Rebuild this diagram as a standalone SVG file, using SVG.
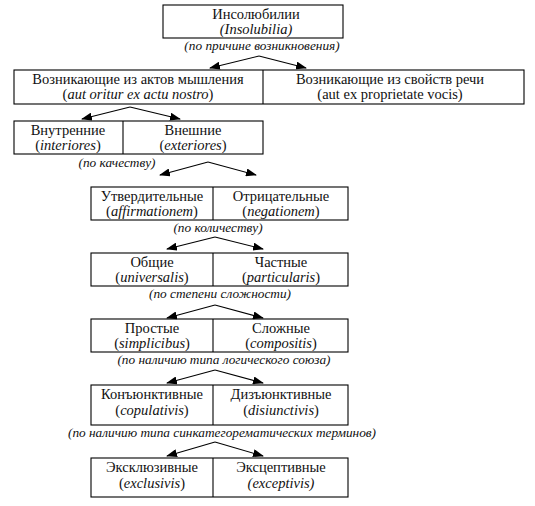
<svg xmlns="http://www.w3.org/2000/svg" width="535" height="506" viewBox="0 0 535 506">
<defs>
<marker id="ah" markerUnits="userSpaceOnUse" markerWidth="11" markerHeight="8" refX="10" refY="4" orient="auto">
<path d="M0,0 L11,4 L0,8 Z" fill="#000"/>
</marker>
<style>
.b,.div{fill:none;stroke:#000;stroke-width:1.1}
text{font-size:14.5px;fill:#111;text-anchor:middle}
.i{font-style:italic}
.lab{font-style:italic;font-size:13.3px}
.con line{stroke:#000;stroke-width:1.1;marker-end:url(#ah)}
</style>
</defs>
<rect x="0" y="0" width="535" height="506" fill="#fff"/>
<g font-family="'Liberation Serif', 'DejaVu Serif', 'Times New Roman', serif">
<g id="n-root">
<rect class="b" x="163" y="5" width="180" height="33"/>
<text x="256" y="19">Инсолюбилии</text>
<text x="256" y="34" class="i">(Insolubilia)</text>
</g>
<text x="262" y="50" class="lab">(по причине возникновения)</text>
<g id="n-row2">
<rect class="b" x="14" y="70" width="510" height="34"/>
<line class="div" x1="263" y1="70" x2="263" y2="104"/>
<text x="138" y="84">Возникающие из актов мышления</text>
<text x="138" y="99">(<tspan class="i">aut oritur ex actu nostro</tspan>)</text>
<text x="390" y="84">Возникающие из свойств речи</text>
<text x="390" y="99">(aut ex proprietate vocis)</text>
</g>
<g id="n-row3">
<rect class="b" x="14" y="121" width="249" height="33"/>
<line class="div" x1="123" y1="121" x2="123" y2="154"/>
<text x="68" y="135">Внутренние</text>
<text x="68" y="150">(<tspan class="i">interiores</tspan>)</text>
<text x="193" y="135">Внешние</text>
<text x="193" y="150">(<tspan class="i">exteriores</tspan>)</text>
</g>
<text x="117" y="167" class="lab">(по качеству)</text>
<g id="n-row4">
<rect class="b" x="91" y="187" width="257" height="33"/>
<line class="div" x1="213" y1="187" x2="213" y2="220"/>
<text x="152" y="201">Утвердительные</text>
<text x="152" y="216">(<tspan class="i">affirmationem</tspan>)</text>
<text x="281" y="201">Отрицательные</text>
<text x="281" y="216">(<tspan class="i">negationem</tspan>)</text>
</g>
<text x="218" y="232" class="lab">(по количеству)</text>
<g id="n-row5">
<rect class="b" x="91" y="253" width="257" height="33"/>
<line class="div" x1="213" y1="253" x2="213" y2="286"/>
<text x="152" y="267">Общие</text>
<text x="152" y="282">(<tspan class="i">universalis</tspan>)</text>
<text x="281" y="267">Частные</text>
<text x="281" y="282">(<tspan class="i">particularis</tspan>)</text>
</g>
<text x="220" y="298" class="lab">(по степени сложности)</text>
<g id="n-row6">
<rect class="b" x="91" y="319" width="257" height="33"/>
<line class="div" x1="213" y1="319" x2="213" y2="352"/>
<text x="152" y="333">Простые</text>
<text x="152" y="348">(<tspan class="i">simplicibus</tspan>)</text>
<text x="281" y="333">Сложные</text>
<text x="281" y="348">(<tspan class="i">compositis</tspan>)</text>
</g>
<text x="224" y="364" class="lab">(по наличию типа логического союза)</text>
<g id="n-row7">
<rect class="b" x="91" y="385" width="257" height="40"/>
<line class="div" x1="213" y1="385" x2="213" y2="425"/>
<text x="152" y="399">Конъюнктивные</text>
<text x="152" y="415">(<tspan class="i">copulativis</tspan>)</text>
<text x="281" y="399">Дизъюнктивные</text>
<text x="281" y="415">(<tspan class="i">disiunctivis</tspan>)</text>
</g>
<text x="222" y="437" class="lab">(по наличию типа синкатегорематических терминов)</text>
<g id="n-row8">
<rect class="b" x="91" y="458" width="257" height="39"/>
<line class="div" x1="213" y1="458" x2="213" y2="497"/>
<text x="152" y="472">Эксклюзивные</text>
<text x="152" y="488">(<tspan class="i">exclusivis</tspan>)</text>
<text x="281" y="472">Эксцептивные</text>
<text x="281" y="488" class="i">(exceptivis)</text>
</g>
</g>
<g id="connectors" class="con">
<line x1="259" y1="56" x2="210" y2="68"/>
<line x1="259" y1="56" x2="306" y2="68"/>
<line x1="130" y1="107" x2="82" y2="119"/>
<line x1="130" y1="107" x2="180" y2="119"/>
<line x1="208" y1="162" x2="160" y2="175"/>
<line x1="208" y1="162" x2="256" y2="175"/>
<line x1="215" y1="237" x2="167" y2="249"/>
<line x1="215" y1="237" x2="263" y2="249"/>
<line x1="215" y1="305" x2="167" y2="318"/>
<line x1="215" y1="305" x2="263" y2="318"/>
<line x1="215" y1="370" x2="167" y2="383"/>
<line x1="215" y1="370" x2="263" y2="383"/>
<line x1="215" y1="442" x2="167" y2="456"/>
<line x1="215" y1="442" x2="263" y2="456"/>
</g>
</svg>
